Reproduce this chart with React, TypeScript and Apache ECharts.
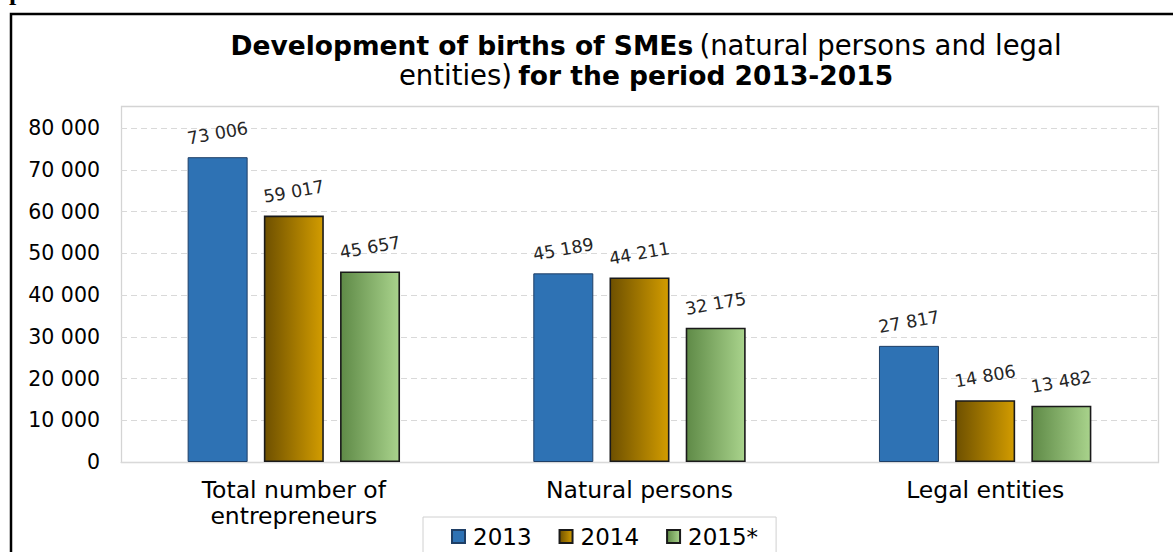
import React, { useEffect, useRef } from "react";
import * as echarts from "echarts";

const categories = ["Total number of\nentrepreneurs", "Natural persons", "Legal entities"];
const seriesNames = ["2013", "2014", "2015*"];
const values2013 = [73006, 45189, 27817];
const values2014 = [59017, 44211, 14806];
const values2015 = [45657, 32175, 13482];
const yTicks = [0, 10000, 20000, 30000, 40000, 50000, 60000, 70000, 80000];

const fmt = (v: number) => String(v).replace(/\B(?=(\d{3})+(?!\d))/g, " ");
const FONT = "DejaVu Sans, Verdana, sans-serif";

export default function App() {
  const ref = useRef<HTMLDivElement>(null);
  useEffect(() => {
    if (!ref.current) return;
    const chart = echarts.init(ref.current, undefined, { renderer: "svg" });
    const grad = (a: string, b: string) =>
      new echarts.graphic.LinearGradient(0, 0, 1, 0, [
        { offset: 0, color: a },
        { offset: 1, color: b },
      ]);
    const colors = [
      "#2e72b4",
      grad("#6e5000", "#d29c00"),
      grad("#5f8a47", "#a9d38c"),
    ];
    const data = [values2013, values2014, values2015];
    const label = {
      show: true,
      position: "top",
      distance: 24,
      rotate: 10,
      align: "center",
      verticalAlign: "middle",
      fontFamily: FONT,
      fontSize: 17.5,
      color: "#262626",
      formatter: (p: any) => fmt(p.value),
    };
    chart.setOption({
      animation: false,
      textStyle: { fontFamily: FONT },
      title: {
        left: 646,
        top: 30,
        padding: 0,
        textAlign: "center",
        text:
          "{b|Development of births of SMEs} {n|(natural persons and legal}\n{n|entities)} {b|for the period 2013-2015}",
        textStyle: {
          rich: {
            b: { fontFamily: FONT, fontWeight: "bold", fontSize: 26.5, color: "#000", lineHeight: 30 },
            n: { fontFamily: FONT, fontWeight: "normal", fontSize: 27.5, color: "#000", lineHeight: 30 },
          },
        },
      },
      legend: {
        left: 423,
        top: 517,
        itemWidth: 13,
        itemHeight: 13,
        itemGap: 27,
        icon: "rect",
        padding: [8, 18, 30, 28],
        borderColor: "#d0d0d0",
        borderWidth: 1,
        textStyle: { fontFamily: FONT, fontSize: 23, color: "#000", padding: [0, 0, 0, 3] },
        data: seriesNames,
      },
      grid: { left: 121, right: 15, top: 128, bottom: 90, containLabel: false },
      xAxis: {
        type: "category",
        data: categories,
        axisLine: { lineStyle: { color: "#d9d9d9" } },
        axisTick: { show: false },
        axisLabel: {
          fontFamily: FONT,
          fontSize: 23.5,
          color: "#000",
          margin: 15,
          lineHeight: 26,
          interval: 0,
        },
      },
      yAxis: {
        type: "value",
        min: 0,
        max: 80000,
        interval: 10000,
        axisLine: { show: false },
        axisTick: { show: false },
        splitLine: { lineStyle: { color: "#d9d9d9", type: [6, 4], width: 1.2 } },
        axisLabel: {
          fontFamily: FONT,
          fontSize: 20.5,
          color: "#000",
          margin: 21,
          formatter: (v: number) => (yTicks.includes(v) ? fmt(v) : ""),
        },
      },
      series: seriesNames.map((name, i) => ({
        name,
        type: "bar",
        data: data[i],
        barWidth: 60,
        barGap: "27%",
        itemStyle: {
          color: colors[i],
          borderColor: i === 0 ? "#1f3f66" : "#1a1a1a",
          borderWidth: i === 0 ? 1 : 1.6,
        },
        label,
      })),
      graphic: [
        {
          type: "rect",
          shape: { x: 121.5, y: 106.5, width: 1037, height: 356 },
          style: { fill: "none", stroke: "#d4d4d4", lineWidth: 1.3 },
          silent: true,
          z: -1,
        },
        {
          type: "polyline",
          shape: { points: [[11, 560], [11, 14], [1180, 14]] },
          style: { fill: "none", stroke: "#000", lineWidth: 2.5 },
          silent: true,
        },
        {
          type: "text",
          x: 9,
          y: -9,
          style: {
            text: "p",
            fontFamily: "Liberation Serif, Times New Roman, serif",
            fontWeight: "bold",
            fontSize: 26,
            fill: "#000",
            verticalAlign: "middle",
          },
          silent: true,
        },
      ],
    });
    return () => chart.dispose();
  }, []);
  return (
    <div
      ref={ref}
      style={{ position: "fixed", left: 0, top: 0, width: 1173, height: 552, background: "#fff" }}
    />
  );
}
